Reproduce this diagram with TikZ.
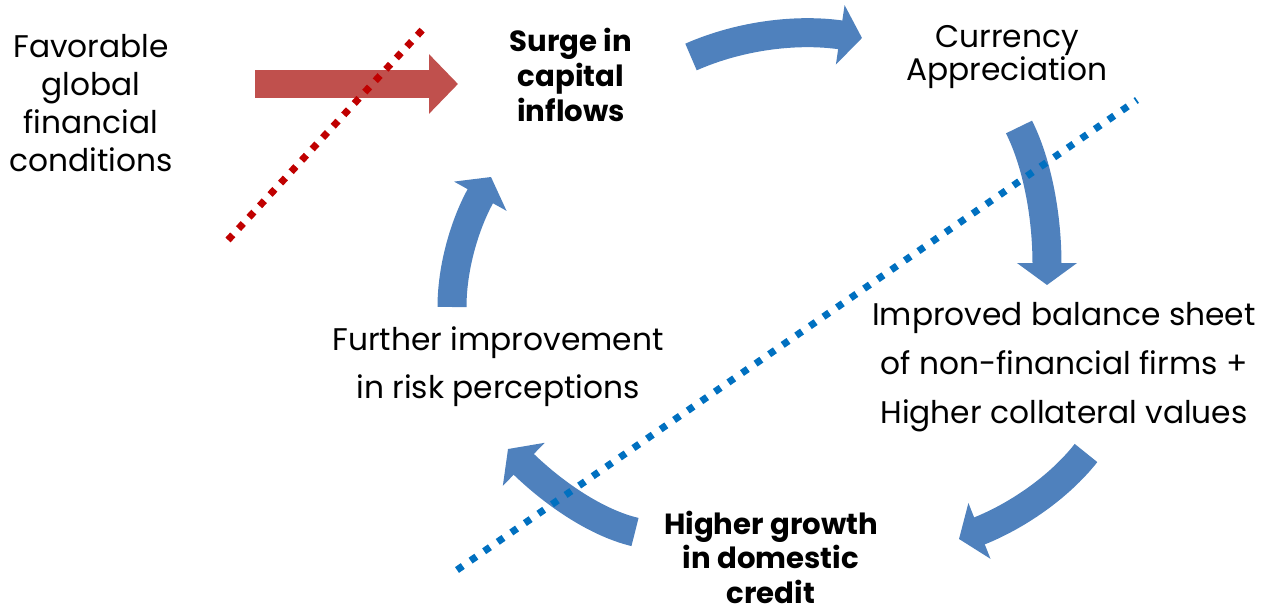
\documentclass[tikz,border=0pt]{standalone}
\usepackage{fontspec}
\setmainfont{Poppins}
\usetikzlibrary{arrows.meta,calc}
\definecolor{arrowblue}{HTML}{4F81BD}
\definecolor{arrowred}{HTML}{C0504D}
\definecolor{dotred}{HTML}{C00000}
\definecolor{dotblue}{HTML}{0070C0}

\begin{document}
\begin{tikzpicture}
		[x=0.02cm,y=-0.02cm,
		textstyle/.style={align=center,inner sep=0pt,font=\fontsize{17.8}{#1}\selectfont},
		boldstyle/.style={align=center,inner sep=0pt,font=\fontsize{16.6}{#1}\selectfont\bfseries},
		bluearrow/.style={arrowblue,line width=0.58cm,
-{Triangle[length=0.44cm,width=1.18cm]}},
		redarrow/.style={arrowred,line width=0.56cm,
-{Triangle[length=0.58cm,width=1.16cm]}},
		dotline/.style={line width=0.14cm,dash pattern=on 0.14cm off #1}]
		\useasboundingbox (0,0) rectangle (1268,611);
		% the six texts round the cycle
		\node at (91,103) (fav) [textstyle=21.6pt] {Favorable\\global\\financial\\conditions};
		\node at (571,75) (surge) [boldstyle=19.9pt] {Surge in\\capital\\inflows};
		\node at (1007,57) (curr) [textstyle=19.3pt] {Currency\\Appreciation};
		\node at (1064,367) (bal) [textstyle=27.9pt] {Improved balance sheet\\of non-financial firms +\\Higher collateral values};
		\node at (771,557) (credit) [boldstyle=19.6pt] {Higher growth\\in domestic\\credit};
		\node at (498,367) (risk) [textstyle=27.3pt] {Further improvement\\in risk perceptions};
		% ends and bends of the curved arrows
		\coordinate (t1) at (691,57);   \coordinate (c1) at (766,24);   \coordinate (h1) at (862,38);
		\coordinate (t2) at (1019,127); \coordinate (c2) at (1047,183); \coordinate (h2) at (1047,285);
		\coordinate (t3) at (1086,453); \coordinate (c3) at (1045,505); \coordinate (h3) at (959,539);
		\coordinate (t4) at (635,532);  \coordinate (c4) at (580,519);  \coordinate (h4) at (508,449);
		\coordinate (t5) at (452,307);  \coordinate (c5) at (452,247);  \coordinate (h5) at (491,177);
		\foreach \i in {1,...,5}
			\draw[bluearrow] (t\i) .. controls ($(t\i)!.667!(c\i)$) and ($(h\i)!.667!(c\i)$) .. (h\i);
		% straight push from outside
		\coordinate (r0) at (255,84);
		\coordinate (r1) at (458,84);
		\draw[redarrow] (r0) -- (r1);
		% dotted cuts
		\coordinate (rd0) at (228,240);
		\coordinate (rd1) at (425,27);
		\coordinate (bd0) at (457,570);
		\coordinate (bd1) at (1137,100);
		\draw[dotline=0.17cm,dotred] (rd0) -- (rd1);
		\draw[dotline=0.19cm,dotblue] (bd0) -- (bd1);
	\end{tikzpicture}
\end{document}
